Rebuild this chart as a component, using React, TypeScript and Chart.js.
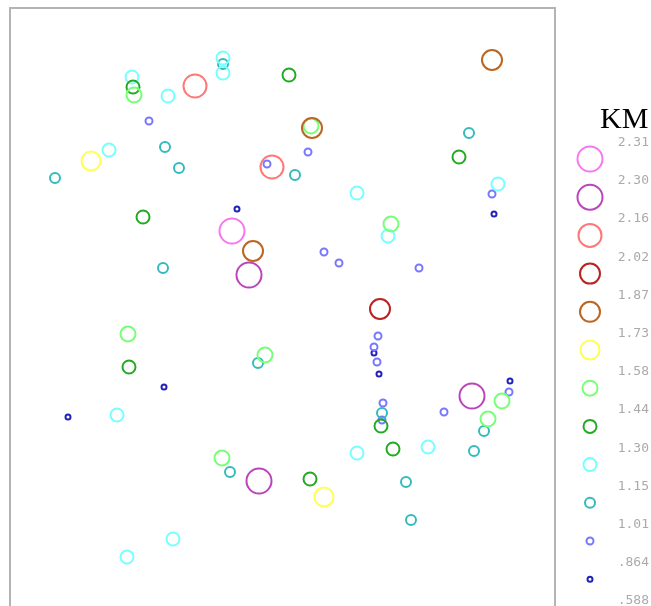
import React, { useEffect, useRef } from "react";
import { Chart, registerables } from "chart.js";

Chart.register(...registerables);

// Legend class boundaries (KM)
const breakLabels = ["2.31", "2.30", "2.16", "2.02", "1.87", "1.73", "1.58", "1.44", "1.30", "1.15", "1.01", ".864", ".588"];

// Points per class (x, y in plot units; y counted downward from top)
const c1 = [{ x: 222, y: 223 }];
const c2 = [{ x: 239, y: 267 }, { x: 462, y: 388 }, { x: 249, y: 473 }];
const c3 = [{ x: 185, y: 78 }, { x: 262, y: 159 }];
const c4 = [{ x: 370, y: 301 }];
const c5 = [{ x: 482, y: 52 }, { x: 302, y: 120 }, { x: 243, y: 243 }];
const c6 = [{ x: 81, y: 153 }, { x: 314, y: 489 }];
const c7 = [{ x: 124, y: 87 }, { x: 301, y: 118 }, { x: 381, y: 216 }, { x: 118, y: 326 }, { x: 255, y: 347 }, { x: 492, y: 393 }, { x: 478, y: 411 }, { x: 212, y: 450 }];
const c8 = [{ x: 123, y: 79 }, { x: 279, y: 67 }, { x: 449, y: 149 }, { x: 133, y: 209 }, { x: 119, y: 359 }, { x: 371, y: 418 }, { x: 383, y: 441 }, { x: 300, y: 471 }];
const c9 = [{ x: 122, y: 69 }, { x: 213, y: 50 }, { x: 213, y: 65 }, { x: 158, y: 88 }, { x: 99, y: 142 }, { x: 347, y: 185 }, { x: 378, y: 228 }, { x: 488, y: 176 }, { x: 107, y: 407 }, { x: 347, y: 445 }, { x: 418, y: 439 }, { x: 163, y: 531 }, { x: 117, y: 549 }];
const c10 = [{ x: 213, y: 56 }, { x: 155, y: 139 }, { x: 169, y: 160 }, { x: 45, y: 170 }, { x: 285, y: 167 }, { x: 459, y: 125 }, { x: 153, y: 260 }, { x: 248, y: 355 }, { x: 372, y: 405 }, { x: 474, y: 423 }, { x: 464, y: 443 }, { x: 220, y: 464 }, { x: 396, y: 474 }, { x: 401, y: 512 }];
const c11 = [{ x: 139, y: 113 }, { x: 257, y: 156 }, { x: 298, y: 144 }, { x: 314, y: 244 }, { x: 329, y: 255 }, { x: 409, y: 260 }, { x: 368, y: 328 }, { x: 364, y: 339 }, { x: 367, y: 354 }, { x: 373, y: 395 }, { x: 372, y: 412 }, { x: 434, y: 404 }, { x: 482, y: 186 }, { x: 499, y: 384 }];
const c12 = [{ x: 227, y: 201 }, { x: 484, y: 206 }, { x: 364, y: 345 }, { x: 369, y: 366 }, { x: 154, y: 379 }, { x: 58, y: 409 }, { x: 500, y: 373 }];

const classData = [c1, c2, c3, c4, c5, c6, c7, c8, c9, c10, c11, c12];
const classColors = ["#f777f0", "#bb44bb", "#ff7777", "#bb2222", "#bb6622", "#ffff55", "#77ff77", "#22aa22", "#77ffff", "#33bbbb", "#7777ff", "#2222bb"];
const classRadius = [12.5, 12.5, 11.5, 10, 10, 9.5, 7.5, 6.5, 6.5, 5, 3.5, 2.5];

const LEG_X = 590;
const LEG_Y0 = 159;
const LEG_STEP = 38.2;

export default function App() {
  const ref = useRef<HTMLCanvasElement | null>(null);

  useEffect(() => {
    document.body.style.margin = "0";
    document.body.style.overflow = "hidden";
    const canvas = ref.current;
    if (!canvas) return;

    const framePlugin = {
      id: "frameAndLegend",
      beforeDatasetsDraw(chart: any) {
        const { ctx, chartArea } = chart;
        ctx.save();
        ctx.strokeStyle = "#b4b4b4";
        ctx.lineWidth = 2;
        ctx.strokeRect(chartArea.left, chartArea.top, chartArea.right - chartArea.left, chartArea.bottom - chartArea.top + 20);
        ctx.restore();
      },
      afterDraw(chart: any) {
        const { ctx } = chart;
        ctx.save();
        ctx.lineWidth = 2;
        classColors.forEach((col, i) => {
          ctx.beginPath();
          ctx.strokeStyle = col;
          ctx.arc(LEG_X, LEG_Y0 + i * LEG_STEP, classRadius[i], 0, Math.PI * 2);
          ctx.stroke();
        });
        ctx.restore();
      },
    };

    const chart = new Chart(canvas, {
      type: "scatter",
      data: {
        datasets: classData.map((pts, i) => ({
          label: breakLabels[i],
          data: pts,
          borderColor: classColors[i],
          backgroundColor: "rgba(0,0,0,0)",
          borderWidth: 2,
          pointRadius: classRadius[i],
          pointHoverRadius: classRadius[i],
        })),
      },
      options: {
        responsive: false,
        animation: false,
        layout: { autoPadding: false, padding: { left: 10, top: 8, right: 96, bottom: 0 } },
        plugins: { legend: { display: false }, tooltip: { enabled: false } },
        scales: {
          x: { type: "linear", min: 0, max: 545, display: false },
          y: { type: "linear", min: 0, max: 598, reverse: true, display: false },
        },
        clip: false as any,
      },
      plugins: [framePlugin],
    });
    return () => chart.destroy();
  }, []);

  return (
    <div style={{ position: "relative", width: 651, height: 606, overflow: "hidden", background: "#fff" }}>
      <canvas ref={ref} width={651} height={606} style={{ width: 651, height: 606, display: "block" }} />
      <div
        style={{
          position: "absolute",
          left: 600,
          top: 100,
          fontFamily: "'Liberation Serif', 'Times New Roman', serif",
          fontSize: 30,
          lineHeight: "36px",
          color: "#000",
        }}
      >
        KM
      </div>
      {breakLabels.map((t, i) => (
        <div
          key={t}
          style={{
            position: "absolute",
            right: 2,
            top: 142 + i * LEG_STEP - 8,
            fontFamily: "'DejaVu Sans Mono', monospace",
            fontSize: 13,
            lineHeight: "16px",
            color: "#aaaaaa",
          }}
        >
          {t}
        </div>
      ))}
    </div>
  );
}
